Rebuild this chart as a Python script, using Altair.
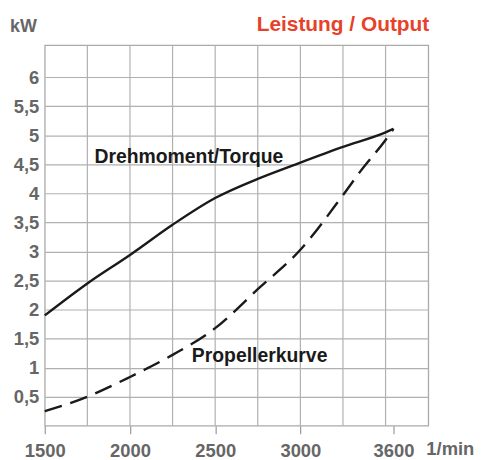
import altair as alt
import pandas as pd

# Drehmoment/Torque curve (kW vs 1/min)
rpm_torque = [1500, 1750, 2000, 2250, 2500, 2750, 3000, 3250, 3500, 3600]
kw_torque = [1.9, 2.45, 2.94, 3.46, 3.92, 4.25, 4.53, 4.8, 5.05, 5.11]

# Propellerkurve (dashed)
rpm_prop = [1500, 1750, 2000, 2250, 2500, 2750, 3000, 3250, 3350, 3500, 3600]
kw_prop = [0.25, 0.5, 0.84, 1.22, 1.68, 2.35, 3.03, 3.97, 4.37, 4.92, 5.11]

x_ticks = [1500, 2000, 2500, 3000, 3600]
x_grid = [1750, 2000, 2250, 2500, 2750, 3000, 3250, 3500]
y_ticks = [0.5, 1, 1.5, 2, 2.5, 3, 3.5, 4, 4.5, 5, 5.5, 6]

FONT = "Liberation Sans"
GRAY = "#666666"
GRID = "#b0b0b0"
W, H = 386, 383

xscale = alt.Scale(domain=[1500, 3500, 3600, 3750], range=[0, 343, 351, W], nice=False, zero=False)
yscale = alt.Scale(domain=[0, 6.55], nice=False, zero=True)

xaxis = alt.Axis(values=x_ticks, format="d", grid=False, domain=False, tickSize=8, tickColor="#999999",
                 tickWidth=1.2, labelFont=FONT, labelFontSize=18.5, labelFontWeight="bold",
                 labelColor=GRAY, labelPadding=8, title=None, labelFlush=False)
yaxis = alt.Axis(values=y_ticks, grid=True, gridColor=GRID, gridWidth=1.2, ticks=False, domain=False,
                 labelExpr="replace(format(datum.value, ''), '.', ',')", labelFont=FONT, labelFontSize=18.5,
                 labelFontWeight="bold", labelColor=GRAY, labelPadding=6, title=None)

df_t = pd.DataFrame({"rpm": rpm_torque, "kw": kw_torque})
df_p = pd.DataFrame({"rpm": rpm_prop, "kw": kw_prop})
df_g = pd.DataFrame({"g": x_grid})

grid = alt.Chart(df_g).mark_rule(color=GRID, strokeWidth=1.2).encode(
    x=alt.X("g:Q", scale=xscale, axis=xaxis)
)

torque = alt.Chart(df_t).mark_line(color="#1a1a1a", strokeWidth=2.4, interpolate="monotone").encode(
    x=alt.X("rpm:Q", scale=xscale, axis=xaxis),
    y=alt.Y("kw:Q", scale=yscale, axis=yaxis),
)

prop = alt.Chart(df_p).mark_line(color="#1a1a1a", strokeWidth=2.4, strokeDash=[18, 9],
                                 interpolate="monotone").encode(
    x=alt.X("rpm:Q", scale=xscale, axis=xaxis),
    y=alt.Y("kw:Q", scale=yscale, axis=yaxis),
)

def label(text, x, y, align="left", color="#1a1a1a", size=19.5):
    return alt.Chart(pd.DataFrame({"t": [text]})).mark_text(
        align=align, baseline="alphabetic", font=FONT, fontSize=size, fontWeight="bold", color=color
    ).encode(text="t:N", x=alt.value(x), y=alt.value(y))

t1 = label("Drehmoment/Torque", 50, 119)
t2 = label("Propellerkurve", 148, 319)
t3 = label("kW", -35, -13, color=GRAY, size=18)
t4 = label("Leistung / Output", 387, -14, align="right", color="#e8412a", size=21)
t5 = label("1/min", 384, 412, color=GRAY, size=18.5)

chart = alt.layer(grid, torque, prop, t1, t2, t3, t4, t5).properties(
    width=W, height=H,
    autosize=alt.AutoSizeParams(type="none"),
    padding={"left": 37, "top": 36, "right": 46, "bottom": 34},
).configure_view(stroke="#aaaaaa", strokeWidth=1.3)

chart.save("out.html", embed_options={"renderer": "svg", "actions": False})
